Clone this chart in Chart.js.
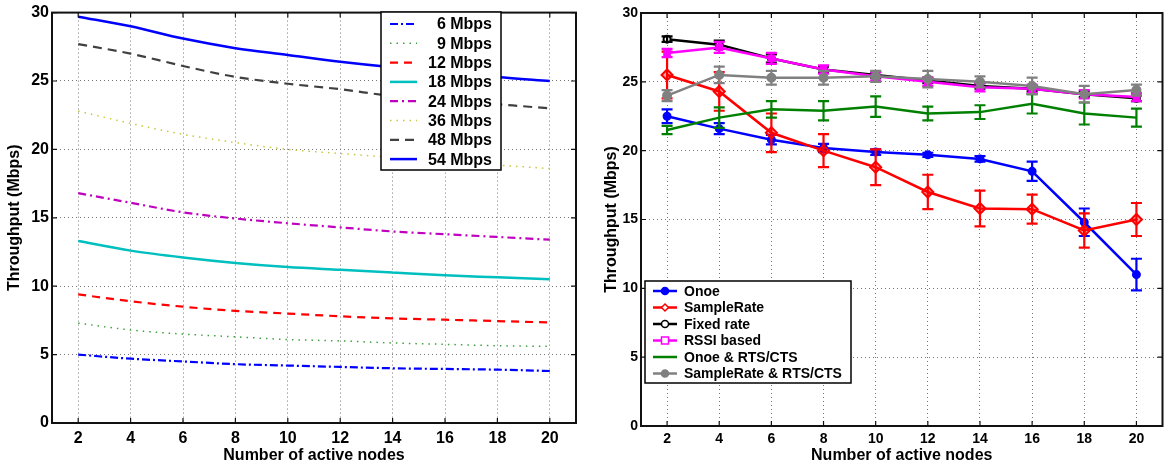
<!DOCTYPE html>
<html>
<head>
<meta charset="utf-8">
<script src="https://cdn.jsdelivr.net/npm/chart.js@4/dist/chart.umd.min.js"></script>
<style>
  html, body { margin: 0; background: #fff; overflow: hidden; }
  canvas { position: absolute; top: 0; }
  #left { left: 0; }
  #right { left: 582px; }
</style>
</head>
<body>
<canvas id="left" width="582" height="465"></canvas>
<canvas id="right" width="588" height="465"></canvas>
<script>
// x values (number of active nodes) and tick labels
const nodes = [2, 4, 6, 8, 10, 12, 14, 16, 18, 20]
const xTicks = [2, 4, 6, 8, 10, 12, 14, 16, 18, 20]
const yTicks = [0, 5, 10, 15, 20, 25, 30]

// left plot: fixed rate throughput (Mbps)
const rateNames = ['6 Mbps', '9 Mbps', '12 Mbps', '18 Mbps', '24 Mbps', '36 Mbps', '48 Mbps', '54 Mbps']
const rate6 = [5.0, 4.7, 4.5, 4.3, 4.2, 4.1, 4.0, 3.95, 3.9, 3.8]
const rate9 = [7.3, 6.8, 6.5, 6.3, 6.1, 6.0, 5.85, 5.75, 5.65, 5.6]
const rate12 = [9.4, 8.9, 8.5, 8.2, 8.0, 7.8, 7.65, 7.55, 7.45, 7.35]
const rate18 = [13.3, 12.6, 12.1, 11.7, 11.4, 11.2, 11.0, 10.8, 10.65, 10.5]
const rate24 = [16.8, 16.1, 15.4, 14.95, 14.6, 14.3, 14.0, 13.8, 13.6, 13.4]
const rate36 = [22.8, 21.9, 21.1, 20.5, 20.0, 19.7, 19.4, 19.1, 18.85, 18.6]
const rate48 = [27.7, 27.0, 26.1, 25.3, 24.8, 24.4, 23.9, 23.6, 23.3, 23.0]
const rate54 = [29.7, 29.0, 28.1, 27.4, 26.9, 26.4, 26.0, 25.7, 25.3, 25.0]

// right plot: rate adaptation schemes, mean and error half-width
const schemeNames = ['Onoe', 'SampleRate', 'Fixed rate', 'RSSI based', 'Onoe & RTS/CTS', 'SampleRate & RTS/CTS']
const onoe = [22.5, 21.6, 20.8, 20.2, 19.9, 19.7, 19.4, 18.5, 14.8, 11.0]
const onoeErr = [0.5, 0.4, 0.35, 0.3, 0.2, 0.15, 0.2, 0.7, 1.0, 1.15]
const sampleRate = [25.5, 24.3, 21.3, 20.0, 18.8, 17.0, 15.8, 15.75, 14.2, 15.0]
const sampleRateErr = [1.7, 1.4, 1.4, 1.2, 1.3, 1.25, 1.3, 1.05, 1.25, 1.2]
const fixedRate = [28.1, 27.7, 26.7, 25.9, 25.5, 25.1, 24.7, 24.5, 24.1, 23.8]
const fixedRateErr = [0.2, 0.3, 0.3, 0.2, 0.2, 0.2, 0.2, 0.2, 0.2, 0.2]
const rssi = [27.1, 27.5, 26.7, 25.9, 25.4, 25.0, 24.6, 24.5, 24.1, 23.9]
const rssiErr = [0.3, 0.4, 0.4, 0.3, 0.3, 0.3, 0.3, 0.3, 0.3, 0.3]
const onoeRts = [21.5, 22.4, 23.0, 22.9, 23.2, 22.7, 22.8, 23.4, 22.7, 22.4]
const onoeRtsErr = [0.3, 0.75, 0.6, 0.7, 0.75, 0.5, 0.5, 0.7, 0.8, 0.65]
const sampleRts = [24.0, 25.5, 25.3, 25.3, 25.4, 25.2, 25.0, 24.7, 24.1, 24.4]
const sampleRtsErr = [0.4, 0.6, 0.5, 0.5, 0.4, 0.6, 0.4, 0.6, 0.6, 0.4]

const FONT = '"Liberation Sans", Arial, Helvetica, sans-serif'
Chart.defaults.font.family = FONT
Chart.defaults.font.weight = 'bold'
Chart.defaults.color = '#000'

const pts = (arr) => nodes.map((x, i) => ({x: x, y: arr[i]}))

function marker(ctx, style, r, x, y) {
	ctx.beginPath()
	if (style === 'circle') ctx.arc(x, y, r, 0, Math.PI * 2)
	else if (style === 'rect') ctx.rect(x - r, y - r, 2 * r, 2 * r)
	else if (style === 'rectRot') {
		ctx.moveTo(x, y - r); ctx.lineTo(x + r, y); ctx.lineTo(x, y + r); ctx.lineTo(x - r, y); ctx.closePath()
	}
	ctx.fill()
	ctx.stroke()
}

// box round the axes, with inward tick marks, then the legend box
const frame = {
	id: 'frame',
	afterDraw(chart, args, opts) {
		const {ctx, chartArea: a} = chart
		const sx = chart.scales.x, sy = chart.scales.y
		ctx.save()
		ctx.strokeStyle = '#111'
		ctx.lineWidth = 1.2
		ctx.setLineDash([])
		ctx.beginPath()
		sx.ticks.forEach(t => {
			const p = sx.getPixelForValue(t.value)
			ctx.moveTo(p, a.bottom); ctx.lineTo(p, a.bottom - 5)
			ctx.moveTo(p, a.top); ctx.lineTo(p, a.top + 5)
		})
		sy.ticks.forEach(t => {
			const p = sy.getPixelForValue(t.value)
			ctx.moveTo(a.left, p); ctx.lineTo(a.left + 5, p)
			ctx.moveTo(a.right, p); ctx.lineTo(a.right - 5, p)
		})
		ctx.stroke()
		ctx.lineWidth = 2
		ctx.strokeRect(a.left, a.top, a.right - a.left, a.bottom - a.top)

		// legend
		const L = opts.legend
		ctx.fillStyle = '#fff'
		ctx.fillRect(L.x0, L.y0, L.x1 - L.x0, L.y1 - L.y0)
		ctx.lineWidth = 1.5
		ctx.strokeStyle = '#000'
		ctx.strokeRect(L.x0, L.y0, L.x1 - L.x0, L.y1 - L.y0)
		ctx.font = 'bold ' + L.size + 'px ' + FONT
		ctx.textBaseline = 'middle'
		chart.data.datasets.forEach((ds, i) => {
			const yy = L.rowTop + i * L.rowStep
			ctx.strokeStyle = ds.borderColor
			ctx.lineWidth = ds.borderWidth
			ctx.setLineDash(ds.borderDash || [])
			ctx.beginPath()
			ctx.moveTo(L.lineX0, yy); ctx.lineTo(L.lineX1, yy)
			ctx.stroke()
			ctx.setLineDash([])
			if (ds.pointRadius > 0) {
				ctx.fillStyle = ds.legendFill || '#fff'
				ctx.lineWidth = 1.5
				marker(ctx, ds.pointStyle, 3.5, (L.lineX0 + L.lineX1) / 2, yy)
			}
			ctx.fillStyle = '#000'
			ctx.textAlign = L.align
			ctx.fillText(ds.label, L.textX, yy + 1)
		})
		ctx.restore()
	}
}

// vertical error bars with caps
const errorBars = {
	id: 'errorBars',
	afterDatasetDraw(chart, args) {
		const ds = chart.data.datasets[args.index]
		if (!ds.errors) return
		const {ctx} = chart
		const sy = chart.scales.y
		ctx.save()
		ctx.strokeStyle = ds.borderColor
		ctx.lineWidth = 2.2
		args.meta.data.forEach((el, i) => {
			const v = ds.data[i].y
			const top = sy.getPixelForValue(v + ds.errors[i])
			const bot = sy.getPixelForValue(v - ds.errors[i])
			ctx.beginPath()
			ctx.moveTo(el.x, top); ctx.lineTo(el.x, bot)
			ctx.moveTo(el.x - 5.5, top); ctx.lineTo(el.x + 5.5, top)
			ctx.moveTo(el.x - 5.5, bot); ctx.lineTo(el.x + 5.5, bot)
			ctx.stroke()
		})
		ctx.restore()
	}
}

function axes(yWidth, xHeight, tickSize, yTitlePad, tickPad) {
	const gridOpts = {color: '#777', lineWidth: 1, drawTicks: false}
	return {
		x: {
			type: 'linear', min: 1, max: 21,
			afterBuildTicks: (s) => { s.ticks = xTicks.map(v => ({value: v})) },
			afterFit: (s) => { s.height = xHeight },
			grid: gridOpts,
			border: {display: false, dash: [1, 3]},
			ticks: {font: {size: tickSize, weight: 'bold'}, padding: tickPad, maxRotation: 0},
			title: {display: true, text: 'Number of active nodes', font: {size: 16, weight: 'bold'}, padding: {top: 0, bottom: 0}}
		},
		y: {
			type: 'linear', min: 0, max: 30,
			afterBuildTicks: (s) => { s.ticks = yTicks.map(v => ({value: v})) },
			afterFit: (s) => { s.width = yWidth },
			grid: gridOpts,
			border: {display: false, dash: [1, 3]},
			ticks: {font: {size: tickSize, weight: 'bold'}, padding: 3},
			title: {display: true, text: 'Throughput (Mbps)', font: {size: 16, weight: 'bold'}, padding: {top: yTitlePad, bottom: 0}}
		}
	}
}

function line(label, arr, color, width, dash) {
	return {
		label: label, data: pts(arr), borderColor: color, borderWidth: width,
		borderDash: dash, pointRadius: 0, tension: 0.35, cubicInterpolationMode: 'monotone', fill: false
	}
}

new Chart(document.getElementById('left'), {
	type: 'line',
	data: {
		datasets: [
			line(rateNames[0], rate6, '#0000ff', 2.2, [8, 3, 2, 3]),
			line(rateNames[1], rate9, '#40a040', 1.5, [1.5, 5]),
			line(rateNames[2], rate12, '#ff0000', 2.2, [8, 6]),
			line(rateNames[3], rate18, '#00bfbf', 2.5, []),
			line(rateNames[4], rate24, '#bf00bf', 2.2, [8, 4, 2, 4]),
			line(rateNames[5], rate36, '#c8c840', 1.5, [1.5, 5]),
			line(rateNames[6], rate48, '#404040', 2.2, [9, 6]),
			line(rateNames[7], rate54, '#0000ff', 2.5, [])
		]
	},
	options: {
		responsive: false, animation: false,
		layout: {padding: {top: 11, right: 6, left: 0, bottom: 0}},
		scales: axes(52, 42, 16, 5, 6),
		plugins: {
			legend: {display: false}, tooltip: {enabled: false},
			frame: {legend: {x0: 381, y0: 12, x1: 501, y1: 170, rowTop: 24, rowStep: 19.3,
				lineX0: 390, lineX1: 417, textX: 492, align: 'right', size: 16}}
		}
	},
	plugins: [frame]
})

function scheme(label, arr, err, color, style, radius, fill, legendFill) {
	return {
		label: label, data: pts(arr), errors: err, borderColor: color, borderWidth: 2.5,
		pointStyle: style, pointRadius: radius, pointBackgroundColor: fill, pointBorderColor: color,
		pointBorderWidth: 2, legendFill: legendFill, tension: 0, fill: false
	}
}

const rightSets = [
	scheme(schemeNames[0], onoe, onoeErr, '#0000ff', 'circle', 3.5, '#0000ff', '#0000ff'),
	scheme(schemeNames[1], sampleRate, sampleRateErr, '#ff0000', 'rectRot', 5.5, 'rgba(255,0,0,0.35)', '#fff'),
	scheme(schemeNames[2], fixedRate, fixedRateErr, '#000000', 'circle', 3.5, '#fff', '#fff'),
	scheme(schemeNames[3], rssi, rssiErr, '#ff00ff', 'rect', 4, '#ff00ff', '#fff'),
	scheme(schemeNames[4], onoeRts, onoeRtsErr, '#008000', 'circle', 0, '#008000', '#008000'),
	scheme(schemeNames[5], sampleRts, sampleRtsErr, '#808080', 'circle', 4, '#808080', '#808080')
]
// later series drawn on top
rightSets.forEach((d, i) => { d.order = rightSets.length - i })

new Chart(document.getElementById('right'), {
	type: 'line',
	data: {datasets: rightSets},
	options: {
		responsive: false, animation: false,
		layout: {padding: {top: 13, right: 0, left: 0, bottom: 0}},
		scales: axes(59, 39, 14, 20, 5),
		plugins: {
			legend: {display: false}, tooltip: {enabled: false},
			frame: {legend: {x0: 645 - 582, y0: 281, x1: 851 - 582, y1: 383, rowTop: 291, rowStep: 16.5,
				lineX0: 653 - 582, lineX1: 677 - 582, textX: 684 - 582, align: 'left', size: 14}}
		}
	},
	plugins: [frame, errorBars]
})
</script>
</body>
</html>
